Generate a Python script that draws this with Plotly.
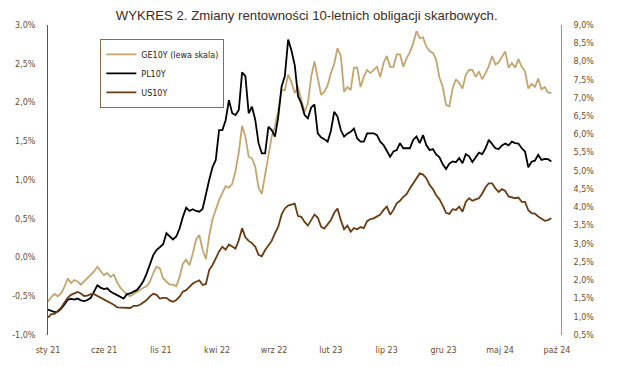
import pandas as pd
import plotly.graph_objects as go

# German 10Y yield (left scale), %
ge10y = [
    -0.57, -0.51, -0.47, -0.50, -0.46, -0.38, -0.27, -0.33, -0.29, -0.31,
    -0.35, -0.31, -0.27, -0.23, -0.18, -0.12, -0.17, -0.23, -0.20, -0.25,
    -0.22, -0.32, -0.39, -0.44, -0.48, -0.50, -0.47, -0.44, -0.42, -0.39,
    -0.37, -0.31, -0.20, -0.12, -0.14, -0.27, -0.31, -0.35,
    -0.35, -0.37, -0.25, -0.08, -0.03, -0.10, 0.05, 0.23, 0.29, 0.10,
    -0.02, 0.28, 0.49, 0.63, 0.74, 0.83, 0.92, 0.90, 0.95, 1.12,
    1.36, 1.70, 1.56, 1.30, 1.28, 1.17, 0.90, 0.82, 1.07, 1.34,
    1.56, 1.69, 1.90, 2.16, 2.16, 2.36, 2.26, 2.12, 2.20,
    2.03, 1.88, 1.99, 2.33, 2.53, 2.31, 2.10, 2.14, 2.22, 2.38,
    2.50, 2.70, 2.60, 2.14, 2.20, 2.16, 2.45, 2.45, 2.20, 2.33,
    2.42, 2.38, 2.42, 2.46, 2.33, 2.51, 2.60, 2.46, 2.46, 2.62,
    2.62, 2.46, 2.57, 2.65, 2.76, 2.92, 2.83, 2.84, 2.72,
    2.66, 2.64, 2.55, 2.32, 2.20, 1.97, 1.95, 2.18, 2.30, 2.25,
    2.18, 2.36, 2.42, 2.42, 2.33, 2.40, 2.30, 2.38, 2.47, 2.60,
    2.49, 2.52, 2.60, 2.66, 2.45, 2.51, 2.45, 2.56, 2.46, 2.40,
    2.18, 2.24, 2.20, 2.31, 2.17, 2.20, 2.13, 2.12,
]

# Polish 10Y yield (right scale), %
pl10y = [
    1.20, 1.17, 1.13, 1.14, 1.22, 1.34, 1.47, 1.49, 1.47, 1.50,
    1.45, 1.43, 1.46, 1.52, 1.70, 1.86, 1.80, 1.76, 1.78, 1.69,
    1.64, 1.60, 1.55, 1.50, 1.62, 1.64, 1.69, 1.73, 1.84, 1.98,
    2.19, 2.46, 2.69, 2.83, 2.92, 2.99, 3.29, 3.20,
    3.12, 3.20, 3.42, 3.74, 3.99, 3.90, 3.95, 3.90, 3.88, 3.96,
    4.38, 4.75, 5.10, 5.30, 6.12, 6.12, 6.39, 6.94, 6.58, 6.53,
    6.67, 7.70, 7.60, 6.58, 6.76, 6.40, 5.76, 5.48, 5.48, 6.21,
    6.12, 5.94, 6.49, 7.31, 7.60, 8.60, 8.30, 7.90, 7.05,
    6.85, 6.53, 6.44, 6.74, 6.82, 6.03, 5.92, 5.87, 5.80, 6.10,
    6.62, 6.49, 6.12, 5.94, 6.02, 6.07, 6.16, 5.89, 5.80, 5.80,
    6.03, 6.03, 6.03, 5.98, 5.80, 5.71, 5.53, 5.39, 5.53, 5.57,
    5.76, 5.62, 5.62, 5.62, 5.85, 5.94, 5.76, 5.98, 5.71,
    5.57, 5.60, 5.45, 5.37, 5.18, 5.05, 5.20, 5.26, 5.24, 5.35,
    5.21, 5.46, 5.40, 5.24, 5.37, 5.50, 5.46, 5.62, 5.85, 5.73,
    5.62, 5.60, 5.70, 5.75, 5.70, 5.80, 5.76, 5.75, 5.62, 5.53,
    5.10, 5.25, 5.28, 5.44, 5.30, 5.33, 5.32, 5.26,
]

# US 10Y yield (right scale), %
us10y = [
    0.98, 1.07, 1.08, 1.16, 1.25, 1.39, 1.52, 1.60, 1.64, 1.68,
    1.64, 1.57, 1.58, 1.62, 1.62, 1.57, 1.53, 1.49, 1.44, 1.39,
    1.33, 1.26, 1.25, 1.24, 1.25, 1.24, 1.30, 1.30, 1.33, 1.39,
    1.46, 1.56, 1.63, 1.60, 1.50, 1.52, 1.52, 1.45,
    1.41, 1.46, 1.55, 1.69, 1.73, 1.82, 1.91, 1.96, 2.00, 1.87,
    1.90, 2.28, 2.42, 2.60, 2.79, 2.92, 2.84, 2.98, 2.92, 2.87,
    3.10, 3.43, 3.18, 3.08, 3.02, 2.92, 2.70, 2.66, 2.83, 2.94,
    3.08, 3.29, 3.47, 3.80, 3.97, 4.05, 4.08, 4.10, 3.76,
    3.74, 3.60, 3.50, 3.65, 3.80, 3.72, 3.47, 3.42, 3.55, 3.65,
    3.85, 3.97, 3.65, 3.40, 3.50, 3.33, 3.43, 3.40, 3.46, 3.43,
    3.62, 3.68, 3.70, 3.74, 3.80, 3.93, 4.02, 3.80, 3.93, 4.11,
    4.18, 4.29, 4.36, 4.52, 4.66, 4.78, 4.93, 4.90, 4.80,
    4.61, 4.50, 4.33, 4.22, 4.05, 3.85, 3.82, 3.95, 3.93, 4.02,
    3.88, 4.15, 4.25, 4.18, 4.22, 4.25, 4.38, 4.55, 4.66, 4.66,
    4.52, 4.42, 4.50, 4.45, 4.30, 4.28, 4.25, 4.27, 4.15, 4.15,
    3.92, 3.84, 3.83, 3.75, 3.70, 3.63, 3.65, 3.70,
]

dates = pd.date_range("2021-01-01", "2024-09-16", periods=len(pl10y))

tick_dates = ["2021-01-01", "2021-06-01", "2021-11-01", "2022-04-01", "2022-09-01",
              "2023-02-01", "2023-07-01", "2023-12-01", "2024-05-01", "2024-10-01"]
tick_labels = ["sty 21", "cze 21", "lis 21", "kwi 22", "wrz 22",
               "lut 23", "lip 23", "gru 23", "maj 24", "paź 24"]

left_ticks = [-1.0, -0.5, 0.0, 0.5, 1.0, 1.5, 2.0, 2.5, 3.0]
right_ticks = [0.5, 1.0, 1.5, 2.0, 2.5, 3.0, 3.5, 4.0, 4.5, 5.0, 5.5, 6.0, 6.5,
               7.0, 7.5, 8.0, 8.5, 9.0]


def pct(v):
    return f"{v:.1f}%".replace(".", ",")


tick_font = dict(family="DejaVu Sans", size=8, color="#6b4c2e")

fig = go.Figure()
fig.add_trace(go.Scatter(x=dates, y=ge10y, name="GE10Y (lewa skala)", mode="lines",
                         line=dict(color="#c4a56e", width=1.8), yaxis="y"))
fig.add_trace(go.Scatter(x=dates, y=pl10y, name="PL10Y", mode="lines",
                         line=dict(color="#000000", width=1.8), yaxis="y2"))
fig.add_trace(go.Scatter(x=dates, y=us10y, name="US10Y", mode="lines",
                         line=dict(color="#6a3c12", width=1.8), yaxis="y2"))

fig.update_layout(
    width=617, height=367,
    margin=dict(l=42, r=56, t=25, b=32),
    paper_bgcolor="white", plot_bgcolor="white",
    title=dict(text="WYKRES 2. Zmiany rentowności 10-letnich obligacji skarbowych.",
               xref="container", x=0.497, xanchor="center",
               yref="container", y=0.958, yanchor="middle",
               font=dict(family="Liberation Sans", size=13.2, color="#3d2c20")),
    xaxis=dict(range=["2021-01-01", "2024-10-12"], tickvals=tick_dates, ticktext=tick_labels,
               showgrid=False, zeroline=False, showline=False, ticks="",
               tickfont=tick_font, ticklabelstandoff=9),
    yaxis=dict(range=[-1, 3], tickvals=left_ticks, ticktext=[pct(v) for v in left_ticks],
               showgrid=False, zeroline=False, showline=True, linecolor="#6e5232",
               linewidth=1, ticks="", tickfont=tick_font, ticklabelstandoff=10),
    yaxis2=dict(range=[0.5, 9], tickvals=right_ticks, ticktext=[pct(v) for v in right_ticks],
                overlaying="y", side="right", showgrid=False, zeroline=False,
                showline=True, linecolor="#a8906c", linewidth=1, ticks="",
                tickfont=tick_font, ticklabelstandoff=10),
    legend=dict(x=0.102, y=0.955, xanchor="left", yanchor="top",
                bgcolor="white", bordercolor="#8c6d4f", borderwidth=1,
                font=dict(family="DejaVu Sans", size=8, color="#222222")),
    showlegend=True,
)

fig.write_html("out.html", config={"displayModeBar": False},
               post_script="document.body.style.margin='0px';")
